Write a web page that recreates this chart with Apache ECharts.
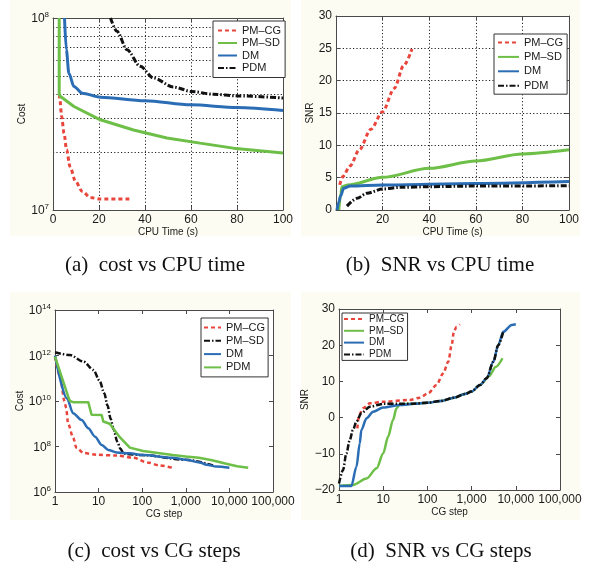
<!DOCTYPE html>
<html><head><meta charset="utf-8">
<script src="https://cdn.jsdelivr.net/npm/echarts@6/dist/echarts.min.js"></script>
<style>html,body{margin:0;padding:0;background:#fff}#c{width:602px;height:568px}</style>
</head><body><div id="c"></div>
<script>
// ---------------- data ----------------
const seriesNames = ['PM–CG', 'PM–SD', 'DM', 'PDM'];
// (a) cost vs CPU time  [seconds, cost]
const aPMCG = [[2.8,4.0e7],[3.0,3.75e7],[3.75,3.07e7],[4.8,2.51e7],[5.9,2.06e7],[7.4,1.68e7],[9.8,1.41e7],[12.7,1.25e7],[16.3,1.16e7],[20.6,1.14e7],[33.6,1.14e7]];
const aPMSD = [[2.7,1e8],[2.7,4.0e7],[3.3,3.9e7],[9.1,3.46e7],[20.6,2.95e7],[35,2.61e7],[49.5,2.37e7],[63.9,2.23e7],[78.4,2.1e7],[100,1.98e7]];
const aDM   = [[5.0,1e8],[5.8,6.83e7],[6.9,5.16e7],[9.1,4.4e7],[12.7,4.06e7],[20.6,3.87e7],[40,3.71e7],[60,3.53e7],[80,3.42e7],[100,3.3e7]];
const aPDM  = [[25,1e8],[27.8,8.52e7],[32.2,6.83e7],[37.9,5.6e7],[43.7,4.87e7],[52.4,4.37e7],[60.3,4.14e7],[69.7,4.01e7],[80.2,3.93e7],[100,3.83e7]];
// (b) SNR vs CPU time
const bPMCG = [[1.6,3.9],[3.0,5.2],[6,6.8],[10,9.3],[15,12.5],[20,15.2],[25,18.8],[29,22.3],[32.6,24.9]];
const bPMSD = [[1.2,0],[2.0,2.5],[2.6,3.6],[5,3.85],[20,5.05],[40,6.44],[60,7.58],[80,8.66],[100,9.3]];
const bDM   = [[0.4,0],[1.2,1.2],[1.9,2.1],[3.3,3.35],[6.1,3.7],[20,3.87],[60,4.1],[100,4.4]];
const bPDM  = [[4.7,0.6],[9,1.8],[13.3,2.6],[20,3.25],[27.6,3.5],[40,3.6],[60,3.7],[100,3.75]];
// (c) cost vs CG step
const cPMCG = [[1,8.9e11],[1.3,1.26e11],[1.65,1e10],[1.8,5e9],[2.0,1e9],[2.6,2.5e8],[3.1,8.9e7],[4.5,5.2e7],[9,4.3e7],[26,4.0e7],[63,3.2e7],[130,2.0e7],[250,1.48e7],[480,1.17e7]];
const cPMSD = [[1,1.38e12],[2.2,1.05e12],[4.5,5.4e11],[7.6,2.3e11],[10.5,7.9e10],[13.5,2.2e10],[16,6.3e9],[19,1.6e9],[22,5.6e8],[27,1.6e8],[31.6,7.9e7],[38,4.8e7],[100,4.2e7],[1000,2.6e7],[4200,1.48e7]];
const cDM   = [[1,1e12],[1.9,1.26e10],[2.6,2.9e9],[4.1,1.45e9],[5.8,6.3e8],[8.3,2.7e8],[11.8,1.17e8],[16.6,7.1e7],[26,5.4e7],[52,5e7],[105,4.2e7],[500,3.2e7],[1000,2.6e7],[2100,2e7],[3000,1.58e7],[5000,1.32e7],[10000,1.17e7]];
const cPDM  = [[1,8.9e11],[2.0,1.58e10],[2.2,1e10],[2.6,8.9e9],[5.8,8.9e9],[6.9,2.5e9],[11.8,2.4e9],[12.8,1.26e9],[18,1e9],[31,2.5e8],[52,8.9e7],[105,6.3e7],[500,4.2e7],[1000,3.6e7],[2000,3.2e7],[4000,2.5e7],[8000,1.78e7],[15000,1.35e7],[27000,1.17e7]];
// (d) SNR vs CG step
const dPMCG = [[2.6,-3],[2.84,0.7],[3.5,2.6],[5,3.95],[10,4.4],[40,4.86],[67,5.5],[104,6.7],[160,9.0],[227,12.2],[296,15.4],[355,20.1],[398,23.8],[457,25.1],[540,25.8]];
const dPMSD = [[1,-18.9],[2.07,-18.6],[4.2,-16.8],[7.1,-14],[10,-9.9],[12.9,-5.3],[16.6,-0.7],[20,2.6],[24,3.7],[50,3.85],[100,4.1],[200,4.6],[400,5.5],[700,6.5],[1000,7.2],[1550,9.0],[2500,11.5],[3500,14],[5000,16.4]];
const dDM   = [[1,-18.9],[1.9,-18.9],[2.48,-13.6],[2.95,-7.1],[3.2,-3.4],[4.2,-0.2],[5.9,1.6],[10,2.8],[24,3.5],[50,3.8],[100,4.1],[200,4.6],[400,5.5],[700,6.5],[1000,7.2],[1550,9.0],[2200,10.9],[3100,15.4],[4000,20],[5200,23.7],[8100,25.6],[10000,25.8]];
const dPDM  = [[1,-18.2],[1.23,-14.5],[1.47,-9.9],[1.75,-6.2],[2.07,-3.4],[2.48,-1.1],[3.2,1.2],[5,3.0],[10,3.8],[24,3.8],[50,3.85],[100,4.1],[200,4.6],[400,5.5],[700,6.5],[1000,7.2],[1550,9.0],[2200,10.9],[3100,15.4],[4000,20],[5200,23.7]];
// tick values / labels
const costMinorGrid = [2e7,3e7,4e7,5e7,6e7,7e7,8e7,9e7];
const cgTickLabels = ['1','10','100','1,000','10,000','100,000'];
const captions = ['(a)  cost vs CPU time','(b)  SNR vs CPU time','(c)  cost vs CG steps','(d)  SNR vs CG steps'];

// ---------------- styling ----------------
const FONT = '"Liberation Sans", Arial, Helvetica, sans-serif';
const SERIF = '"Liberation Serif", "Times New Roman", serif';
const AX = '#4a4a4a', TXT = '#1a1a1a';
const RED = '#e8453c', GREEN = '#6dbf47', BLUE = '#2b6db5', BLACK = '#111111';
const DASH = [4, 3], DASHDOT = [6, 2, 1.5, 2];
const GRIDDOT = [1.2, 2.2];
const GRIDCOL = '#222222';

const gridBoxes = [
  {left:53, top:18, width:230, height:192},
  {left:336, top:16, width:233, height:194},
  {left:55, top:310, width:218, height:182},
  {left:339, top:309, width:221, height:181}
];
const grid = gridBoxes.map(g => Object.assign({show:false, containLabel:false}, g));

const supRich = {
  b:{fontSize:12, fontFamily:FONT, color:TXT, lineHeight:14, verticalAlign:'bottom'},
  s:{fontSize:8, fontFamily:FONT, color:TXT, lineHeight:8, verticalAlign:'top'}
};
function supLabel(v){ const e = Math.round(Math.log10(v)); return '{b|10}{s|' + e + '}'; }

function baseAxis(gi, mirror){
  return {
    gridIndex: gi, z: 3,
    axisLine:{show:true, onZero:false, lineStyle:{color:AX, width:1}},
    axisTick:{show:true, inside:true, length:4, lineStyle:{color:AX, width:1}},
    axisLabel:{show:!mirror, color:TXT, fontFamily:FONT, fontSize:12, margin:4},
    splitLine:{show:false},
    nameTextStyle:{color:TXT, fontFamily:FONT, fontSize:10}
  };
}
function mk(base, extra){ const o = Object.assign({}, base, extra);
  ['axisLabel','splitLine','axisTick','axisLine','nameTextStyle'].forEach(k=>{ if(extra[k]) o[k] = Object.assign({}, base[k], extra[k]); });
  return o; }

const dotted = {show:true, lineStyle:{color:GRIDCOL, type:GRIDDOT, width:1, opacity:1}};
const xDefs = [
  {type:'value', min:0, max:100, interval:20, name:'CPU Time (s)', nameLocation:'middle', nameGap:16, splitLine:dotted},
  {type:'value', min:0, max:100, interval:20, name:'CPU Time (s)', nameLocation:'middle', nameGap:16, splitLine:dotted,
   axisLabel:{formatter:v => v === 0 ? '' : String(v)}},
  {type:'log', logBase:10, min:1, max:1e5, interval:1, name:'CG step', nameLocation:'middle', nameGap:16,
   axisLabel:{formatter:v => cgTickLabels[Math.round(Math.log10(v))]}},
  {type:'log', logBase:10, min:1, max:1e5, interval:1, name:'CG step', nameLocation:'middle', nameGap:16,
   axisLabel:{formatter:v => cgTickLabels[Math.round(Math.log10(v))]}}
];
const yDefs = [
  {type:'log', logBase:10, min:1e7, max:1e8, interval:1, name:'Cost', nameLocation:'middle', nameGap:17,
   axisLabel:{formatter:supLabel, rich:supRich}},
  {type:'value', min:0, max:30, interval:5, name:'SNR', nameLocation:'middle', nameGap:15, splitLine:dotted},
  {type:'log', logBase:10, min:1e6, max:1e14, interval:2, name:'Cost', nameLocation:'middle', nameGap:14,
   axisLabel:{formatter:v => { const e = Math.round(Math.log10(v)); return e % 2 === 0 ? supLabel(v) : ''; }, rich:supRich}},
  {type:'value', min:-20, max:30, interval:10, name:'SNR', nameLocation:'middle', nameGap:12,
   axisLabel:{formatter:v => v < 0 ? '−' + Math.abs(v) : String(v)}}
];

const xAxis = [], yAxis = [];
xDefs.forEach((d,i)=> xAxis.push(mk(baseAxis(i,false), Object.assign({position:'bottom'}, d))));
yDefs.forEach((d,i)=> yAxis.push(mk(baseAxis(i,false), Object.assign({position:'left'}, d))));
xDefs.forEach((d,i)=> { xAxis.push(mk(baseAxis(i,true), {type:d.type, logBase:d.logBase, min:d.min, max:d.max, interval:d.interval, position:'top'})); });
yDefs.forEach((d,i)=> { yAxis.push(mk(baseAxis(i,true), {type:d.type, logBase:d.logBase, min:d.min, max:d.max, interval:d.interval, position:'right'})); });

function line(panel, name, data, color, dash, width, smooth){
  const i = 'abcd'.indexOf(panel);
  return {
    type:'line', name: panel + ':' + name, xAxisIndex: i, yAxisIndex: i,
    data, symbol:'none', showSymbol:false, smooth: smooth, smoothMonotone: smooth ? 'x' : undefined,
    lineStyle:{color, width, type: dash || 'solid', cap:'butt'}, itemStyle:{color},
    animation:false, clip:true, silent:true, z:4
  };
}
const series = [
  line('a', seriesNames[0], aPMCG, RED, DASH, 3, 0.3),
  line('a', seriesNames[1], aPMSD, GREEN, null, 3, false),
  line('a', seriesNames[2], aDM, BLUE, null, 3, 0.3),
  line('a', seriesNames[3], aPDM, BLACK, DASHDOT, 3, 0.3),
  line('b', seriesNames[0], bPMCG, RED, DASH, 3, 0.3),
  line('b', seriesNames[1], bPMSD, GREEN, null, 3, 0.3),
  line('b', seriesNames[2], bDM, BLUE, null, 3, 0.3),
  line('b', seriesNames[3], bPDM, BLACK, DASHDOT, 3, 0.3),
  line('c', seriesNames[0], cPMCG, RED, DASH, 2.5, 0.3),
  line('c', seriesNames[1], cPMSD, BLACK, DASHDOT, 2.5, 0.3),
  line('c', seriesNames[2], cDM, BLUE, null, 2.5, 0.3),
  line('c', seriesNames[3], cPDM, GREEN, null, 2.5, false),
  line('d', seriesNames[0], dPMCG, RED, DASH, 2.5, 0.3),
  line('d', seriesNames[1], dPMSD, GREEN, null, 2.5, 0.3),
  line('d', seriesNames[2], dDM, BLUE, null, 2.5, 0.3),
  line('d', seriesNames[3], dPDM, BLACK, DASHDOT, 2.5, 0.3)
];
// minor log grid lines of panel (a), drawn through a carrier series on axis (a)
series.unshift({
  type:'line', name:'minorGrid', xAxisIndex:0, yAxisIndex:0, data:[], symbol:'none', silent:true, z:1, animation:false,
  markLine:{
    silent:true, symbol:['none','none'], label:{show:false}, animation:false, z:1,
    lineStyle:{color:GRIDCOL, type:GRIDDOT, width:1, opacity:1},
    emphasis:{disabled:true},
    data: costMinorGrid.map(v => ({yAxis:v}))
  }
});

function legend(panel, pos, extra){
  return Object.assign({
    orient:'vertical', data: seriesNames.map(n => panel + ':' + n),
    formatter: n => n.slice(2), selectedMode:false, z:10,
    backgroundColor:'#ffffff', borderColor:'#333', borderWidth:1, borderRadius:0,
    itemWidth:19, itemHeight:8, itemGap:1.5, padding:[4,4,4,4],
    itemStyle:{opacity:0},
    textStyle:{color:TXT, fontFamily:FONT, fontSize:11}
  }, pos, extra || {});
}
const legends = [
  legend('a', {left:213, top:21}),
  legend('b', {left:494, top:34}, {itemWidth:21, itemGap:3.4, padding:[3,4,3,3]}),
  legend('c', {left:201, top:318}, {itemWidth:17, itemGap:2.3, padding:[4,3,4,2]}),
  legend('d', {left:342, top:313}, {itemWidth:20, itemGap:1.8, padding:[1,3,1,1], textStyle:{color:TXT, fontFamily:FONT, fontSize:10}})
];

const panelBg = [[10,0,281,236],[301,0,279,236],[10,292,281,228],[301,292,279,228]];
const captionPos = [[155,265],[440,265],[154,551],[441,551]];
const graphic = [];
panelBg.forEach(r => graphic.push({type:'rect', shape:{x:r[0], y:r[1], width:r[2], height:r[3]}, style:{fill:'#fdfcf2'}, z:-20, silent:true}));
gridBoxes.forEach(g => graphic.push({type:'rect', shape:{x:g.left, y:g.top, width:g.width, height:g.height}, style:{fill:'#ffffff'}, z:-10, silent:true}));
captions.forEach((t,i) => graphic.push({type:'text', x:captionPos[i][0], y:captionPos[i][1], style:{text:t, fill:'#111', font:'21px ' + SERIF, textAlign:'center', textVerticalAlign:'middle'}, silent:true}));

const chart = echarts.init(document.getElementById('c'), null, {renderer:'canvas'});
chart.setOption({
  backgroundColor:'#ffffff', animation:false,
  grid, xAxis, yAxis, series, legend: legends, graphic
});
</script></body></html>
